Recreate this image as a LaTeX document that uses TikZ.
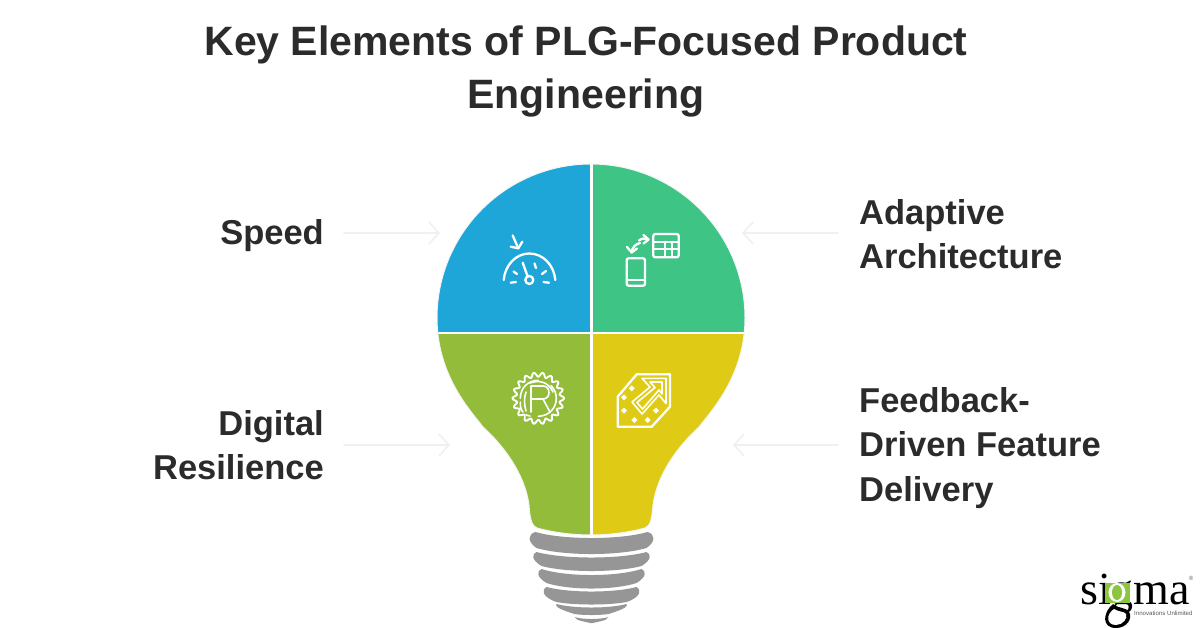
\documentclass[tikz,border=0pt]{standalone}
\usepackage{fontspec}
\setmainfont{Liberation Sans}
\newfontfamily\logofont{Liberation Serif}
\usetikzlibrary{arrows.meta}
\definecolor{cblue}{HTML}{1FA6D8}
\definecolor{cgreen}{HTML}{3EC484}
\definecolor{colive}{HTML}{92BC3A}
\definecolor{cyellow}{HTML}{DFCB15}
\definecolor{cgray}{HTML}{969696}
\definecolor{ctext}{HTML}{2B2B2B}
\definecolor{carrow}{HTML}{F0F0F0}
\definecolor{clogo}{HTML}{8CC63F}
\tikzset{
  x=1pt,y=-1pt,
  titletext/.style={font=\fontsize{41}{53}\selectfont\bfseries,text=ctext,align=center,inner sep=0pt},
  lbl/.style={font=\fontsize{34.5}{44.5}\selectfont\bfseries,text=ctext,inner sep=0pt},
  lblleft/.style={lbl,align=right,anchor=east},
  lblright/.style={lbl,align=left,anchor=west},
  pointer/.style={draw=carrow,line width=1.6pt,line cap=round,-{Straight Barb[length=10pt,width=22pt,line width=1.6pt]}},
  icon/.style={draw=white,line width=2.3pt,line cap=round,line join=round},
  iconthin/.style={draw=white,line width=1.6pt,line cap=round,line join=round},
  dot/.style={fill=white,draw=none},
  band/.style={fill=cgray,draw=none}
}
\newcommand{\bulbpath}{(591,164)
  .. controls (506,164) and (437,233) .. (437,318)
  .. controls (437,375) and (470,410) .. (483,427)
  .. controls (505,447) and (525,475) .. (529,505)
  .. controls (530,520) and (532,526) .. (537,528)
  .. controls (555,533) and (575,535) .. (591,535)
  .. controls (607,535) and (627,533) .. (645,528)
  .. controls (650,526) and (652,520) .. (653,505)
  .. controls (657,475) and (677,447) .. (699,427)
  .. controls (712,410) and (745,375) .. (745,318)
  .. controls (745,233) and (676,164) .. (591,164) -- cycle}
% half-width top, y side top, y centre top, half-width bulge, y bulge, half-width low, y side low, y centre bottom
\newcommand{\screwband}[8]{%
  \pgfmathsetmacro{\ct}{(#3-0.25*#2)/0.75}%
  \pgfmathsetmacro{\cb}{(#8-0.25*#7)/0.75}%
  \fill[band] (591.5-#1,#2)
    .. controls (591.5-#1*0.5,\ct) and (591.5+#1*0.5,\ct) .. (591.5+#1,#2)
    .. controls (591.5+#4,#2+2) and (591.5+#4,#5+2) .. (591.5+#6,#7)
    .. controls (591.5+#6*0.5,\cb) and (591.5-#6*0.5,\cb) .. (591.5-#6,#7)
    .. controls (591.5-#4,#5+2) and (591.5-#4,#2+2) .. (591.5-#1,#2) -- cycle;}
\begin{document}
\begin{tikzpicture}
\useasboundingbox (0,0) rectangle (1200,627);
\fill[white] (0,0) rectangle (1200,627);

% title
\node[titletext] (title) at (586,71) {Key Elements of PLG-Focused Product\\Engineering};

% bulb
\begin{scope}
  \clip \bulbpath;
  \fill[cblue] (430,160) rectangle (591,333);
  \fill[cgreen] (591,160) rectangle (750,333);
  \fill[colive] (430,333) rectangle (591,540);
  \fill[cyellow] (591,333) rectangle (750,540);
  \draw[white,line width=2.6pt] (591.5,160) -- (591.5,540);
  \draw[white,line width=2.6pt] (430,333) -- (750,333);
\end{scope}
\draw[draw=black!4,line width=1pt] \bulbpath;

% screw base
\screwband{56}{532}{538}{64}{540}{55}{548}{554}
\screwband{55}{552}{557.5}{60}{558}{50}{566}{571}
\screwband{50}{569}{575}{55}{575}{45}{583}{588.5}
\screwband{45}{587}{591.5}{50}{595}{35}{602}{604.5}
\screwband{35}{604}{607.5}{36}{606}{17}{614}{615}
\screwband{17}{617}{619}{16}{618}{1}{623}{623.5}

% labels and pointers
\node[lblleft] (speed) at (324,236) {Speed};
\node[lblleft] (digital) at (324,445) {Digital\\Resilience};
\node[lblright] (adaptive) at (859,234) {Adaptive\\Architecture};
\node[lblright] (feedback) at (859,448) {Feedback-\\Driven Feature\\Delivery};
\coordinate (speedin) at (344,233);
\coordinate (speedout) at (440,233);
\coordinate (adaptin) at (838,233);
\coordinate (adaptout) at (742,233);
\coordinate (digin) at (344,445);
\coordinate (digout) at (450,445);
\coordinate (feedin) at (838,445);
\coordinate (feedout) at (733,445);
\draw[pointer] (speedin) -- (speedout);
\draw[pointer] (adaptin) -- (adaptout);
\draw[pointer] (digin) -- (digout);
\draw[pointer] (feedin) -- (feedout);

% gauge icon
\draw[icon] (503.7,280) .. controls (505,265) and (516,253.5) .. (529.3,253.5)
   .. controls (543,253.5) and (554,265) .. (555.3,280);
\draw[icon] (529.3,280) circle (4);
\draw[icon] (527.5,276) -- (522.7,262.7);
\draw[icon] (510.7,282.7) -- (516,282);
\draw[icon] (513.5,271.5) -- (517,274);
\draw[icon] (534.5,263.5) -- (536,268);
\draw[icon] (542,274) -- (546,271);
\draw[icon] (543.5,282) -- (549,282.7);
\draw[icon] (512.7,235.5) -- (518.3,248.3);
\draw[icon] (510.7,246.7) -- (518.3,248.3) -- (522.3,241.7);

% phone + table icon
\draw[icon,rounded corners=2pt] (626.7,258.3) rectangle (645,285.7);
\draw[icon] (626.7,280) -- (645,280);
\draw[icon,rounded corners=2pt] (653.3,234) rectangle (678.7,257.3);
\draw[icon] (653.3,241.7) -- (678.7,241.7);
\draw[icon] (653.3,249.3) -- (678.7,249.3);
\draw[icon] (665,241.7) -- (665,257.3);
\draw[icon] (672,241.7) -- (672,257.3);
\draw[icon] (631.7,252.5) .. controls (632,247) and (636,244) .. (640,243);
\draw[icon] (627,247) -- (631.7,252.5) -- (637,248.5);
\draw[icon] (639,240.5) .. controls (642,238) and (646,238) .. (648,240);
\draw[icon] (643.5,235) -- (648.5,239.5) -- (643.5,243.5);

% gear icon
\draw[iconthin,line width=1.9pt,smooth,samples=144,domain=0:360,variable=\t]
  plot ({538.3+(23.7+2.2*cos(18*\t))*cos(\t)},{398.3+(23.7+2.2*cos(18*\t))*sin(\t)}) -- cycle;
\draw[iconthin] (520.3,398.3) .. controls (520.3,388) and (528,380.3) .. (538.3,380.3);
\draw[iconthin] (551,385.5) .. controls (555,390) and (556.3,394) .. (556.3,398.3)
  .. controls (556.3,408) and (549,416) .. (538.3,416.3);
\draw[iconthin] (523,412) .. controls (521,410) and (520,406) .. (520.3,402);
\draw[iconthin] (530,416) -- (526,415);
\draw[iconthin] (531,412) -- (531,386) -- (543,386)
  .. controls (551,386) and (551,399) .. (543,399) -- (531,399);
\draw[iconthin] (543,399) -- (550,412);
\draw[iconthin] (526,392) .. controls (524,398) and (524,404) .. (526,411);
\draw[iconthin] (530,383) .. controls (538,380) and (548,381) .. (553,392);

% chip arrow icon
\draw[icon] (636.7,374.3) -- (670,374.3) -- (670,406.7) -- (651.7,426.7)
   -- (617.7,426.7) -- (617.7,396.7) -- cycle;
\draw[iconthin] (666,378.3) -- (642,378.3) -- (650,387) -- (632,402) -- (642,414) -- (659,395) -- (666,403.5) -- cycle;
\draw[iconthin] (662,382) -- (650,382) -- (655,387.5) -- (637,402.5) -- (642.5,409) -- (659,390) -- (662,394) -- cycle;
\foreach \dx/\dy in {624/397.3,631.7/388.3,624/410.7,634.3/420,647.7/420,656/410.7}
  \fill[dot] (\dx-3,\dy) -- (\dx,\dy-3) -- (\dx+3,\dy) -- (\dx,\dy+3) -- cycle;

% logo
\node[font=\logofont\fontsize{46}{46}\selectfont,text=black,anchor=base west,inner sep=0pt,text depth=0pt] (logo) at (1080,604) {sigma};
\fill[clogo] (1105,583) rectangle (1130,603);
\fill[white] (1117,592.5) ellipse [x radius=8.5,y radius=9.5];
\fill[clogo] (1117,592.5) ellipse [x radius=5,y radius=7.5];
\fill[black] (1113,604) .. controls (1103,612) and (1101,628) .. (1116,628)
   .. controls (1127,628) and (1133,618) .. (1129,612) .. controls (1126,607) and (1119,609) .. (1113,604) -- cycle;
\fill[white] (1114,609) .. controls (1106,614) and (1106,625) .. (1116,625)
   .. controls (1123,625) and (1128,618) .. (1126,614) .. controls (1124,611) and (1118,612) .. (1114,609) -- cycle;
\node[font=\fontsize{6.1}{7}\selectfont,text=black!65,anchor=west,inner sep=0pt] (tagline) at (1134,613) {Innovations Unlimited};
\node[font=\fontsize{6}{6}\selectfont,text=black!60,inner sep=0pt] (reg) at (1191,578) {®};
\end{tikzpicture}
\end{document}
